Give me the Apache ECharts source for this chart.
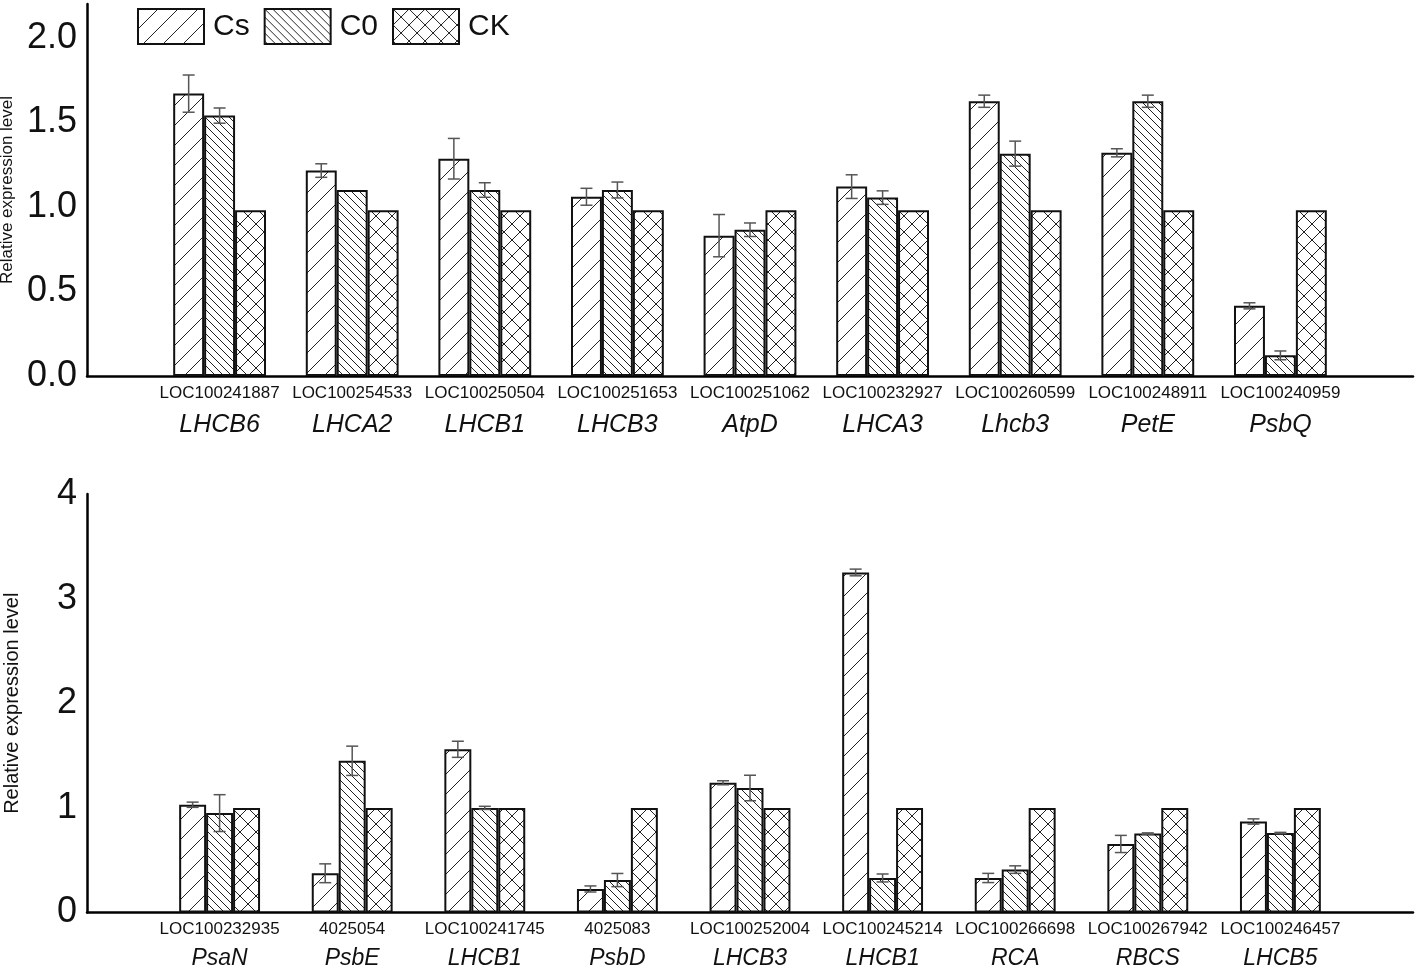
<!DOCTYPE html>
<html><head><meta charset="utf-8">
<script src="https://cdn.jsdelivr.net/npm/echarts@6/dist/echarts.min.js"></script>
<style>html,body{margin:0;padding:0;background:#fff}#c{width:1418px;height:971px}</style>
</head><body><div id="c"></div>
<script>
// ---------- Data: top panel ----------
const topLoc = ['LOC100241887','LOC100254533','LOC100250504','LOC100251653','LOC100251062','LOC100232927','LOC100260599','LOC100248911','LOC100240959'];
const topGene = ['LHCB6','LHCA2','LHCB1','LHCB3','AtpD','LHCA3','Lhcb3','PetE','PsbQ'];
const topCs    = [1.67, 1.215, 1.285, 1.06, 0.83, 1.12, 1.625, 1.32, 0.415];
const topCsErr = [0.11, 0.04, 0.12, 0.05, 0.125, 0.07, 0.036, 0.024, 0.018];
const topC0    = [1.54, 1.10, 1.10, 1.10, 0.865, 1.055, 1.315, 1.625, 0.122];
const topC0Err = [0.045, 0, 0.043, 0.047, 0.04, 0.04, 0.074, 0.036, 0.026];
const topCK    = [0.98, 0.98, 0.98, 0.98, 0.98, 0.98, 0.98, 0.98, 0.98];
const topCKErr = [0, 0, 0, 0, 0, 0, 0, 0, 0];

// ---------- Data: bottom panel ----------
const botLoc = ['LOC100232935','4025054','LOC100241745','4025083','LOC100252004','LOC100245214','LOC100266698','LOC100267942','LOC100246457'];
const botGene = ['PsaN','PsbE','LHCB1','PsbD','LHCB3','LHCB1','RCA','RBCS','LHCB5'];
const botCs    = [1.03, 0.375, 1.56, 0.225, 1.24, 3.25, 0.33, 0.655, 0.87];
const botCsErr = [0.025, 0.09, 0.077, 0.029, 0.019, 0.032, 0.044, 0.082, 0.025];
const botC0    = [0.95, 1.45, 1.0, 0.31, 1.19, 0.33, 0.41, 0.755, 0.76];
const botC0Err = [0.176, 0.14, 0.015, 0.063, 0.122, 0.038, 0.036, 0.006, 0.006];
const botCK    = [1, 1, 1, 1, 1, 1, 1, 1, 1];
const botCKErr = [0, 0, 0, 0, 0, 0, 0, 0, 0];

const seriesNames = ['Cs', 'C0', 'CK'];
const axisTitle = 'Relative expression level';

// ---------- Hatch patterns ----------
function makePattern(kind) {
  const size = kind === 'cs' ? 20 : (kind === 'c0' ? 8 : 16);
  const c = document.createElement('canvas');
  c.width = size; c.height = size;
  const g = c.getContext('2d');
  g.fillStyle = '#fff'; g.fillRect(0, 0, size, size);
  g.strokeStyle = '#222'; g.lineWidth = 1;
  g.beginPath();
  for (const x0 of [-size, 0, size]) {
    if (kind === 'cs' || kind === 'ck') { g.moveTo(x0, size); g.lineTo(x0 + size, 0); }
    if (kind === 'c0' || kind === 'ck') { g.moveTo(x0, 0); g.lineTo(x0 + size, size); }
  }
  g.stroke();
  return { image: c, repeat: 'repeat' };
}
const patterns = [makePattern('cs'), makePattern('c0'), makePattern('ck')];

const pad = v => [null].concat(v, [null]);
const catData = locs => [''].concat(locs, ['']);

function errData(vals, errs, s) {
  const out = [];
  vals.forEach((v, i) => { if (errs[i] > 0) out.push([i + 1, v, errs[i], s]); });
  return out;
}

function renderErr(gap) {
  return function (params, api) {
    const idx = api.value(0), v = api.value(1), e = api.value(2), s = api.value(3);
    const band = api.size([1, 0])[0];
    const bw = band * (1 - gap) / 3;
    const x = api.coord([idx, v])[0] + (s - 1) * bw;
    const yT = api.coord([idx, v + e])[1], yB = api.coord([idx, v - e])[1];
    const cap = 6;
    const style = { stroke: '#555', lineWidth: 1.5, fill: null };
    return { type: 'group', children: [
      { type: 'line', shape: { x1: x, y1: yT, x2: x, y2: yB }, style },
      { type: 'line', shape: { x1: x - cap, y1: yT, x2: x + cap, y2: yT }, style },
      { type: 'line', shape: { x1: x - cap, y1: yB, x2: x + cap, y2: yB }, style }
    ] };
  };
}

const FONT = 'Liberation Sans, Arial, sans-serif';
const panels = [
  { locs: topLoc, genes: topGene, vals: [topCs, topC0, topCK], errs: [topCsErr, topC0Err, topCKErr],
    gap: 0.30, grid: { left: 87, right: 5, top: 4, bottom: 595 }, max: 2.2, interval: 0.5, dec: 1,
    locSize: 17, geneSize: 25, locLH: 32, geneLH: 32, margin: 1, nameSize: 17, nameGap: 63 },
  { locs: botLoc, genes: botGene, vals: [botCs, botC0, botCK], errs: [botCsErr, botC0Err, botCKErr],
    gap: 0.39, grid: { left: 87, right: 5, top: 494, bottom: 58.5 }, max: 4, interval: 1, dec: 0,
    locSize: 17, geneSize: 23, locLH: 30, geneLH: 28, margin: 2, nameSize: 20, nameGap: 65 }
];

const grid = [], xAxis = [], yAxis = [], series = [];
panels.forEach((p, pi) => {
  grid.push(Object.assign({ containLabel: false, outerBoundsMode: 'none' }, p.grid));
  xAxis.push({
    type: 'category', gridIndex: pi, data: catData(p.locs), boundaryGap: false,
    axisLine: { show: true, lineStyle: { color: '#000', width: 2.5 } },
    axisTick: { show: false }, splitLine: { show: false },
    axisLabel: {
      interval: 0, margin: p.margin, fontFamily: FONT,
      formatter: (val, idx) => val === '' ? '' : '{a|' + val + '}\n{b|' + p.genes[idx - 1] + '}',
      rich: {
        a: { fontSize: p.locSize, lineHeight: p.locLH, color: '#111', fontFamily: FONT },
        b: { fontSize: p.geneSize, lineHeight: p.geneLH, fontStyle: 'italic', color: '#111', fontFamily: FONT }
      }
    }
  });
  yAxis.push({
    type: 'value', gridIndex: pi, min: 0, max: p.max, interval: p.interval,
    name: axisTitle, nameLocation: 'middle', nameGap: p.nameGap,
    nameTextStyle: { fontSize: p.nameSize, color: '#111', fontFamily: FONT },
    axisLine: { show: true, lineStyle: { color: '#000', width: 2.5 } },
    axisTick: { show: false }, splitLine: { show: false },
    axisLabel: { fontSize: 36, color: '#111', margin: 10, fontFamily: FONT, showMaxLabel: p.max % p.interval === 0,
      formatter: v => v.toFixed(p.dec) }
  });
  seriesNames.forEach((name, s) => {
    series.push({
      type: 'bar', name, xAxisIndex: pi, yAxisIndex: pi, data: pad(p.vals[s]),
      barGap: '0%', barCategoryGap: (p.gap * 100) + '%',
      itemStyle: { color: patterns[s], borderColor: '#111', borderWidth: 2 },
      emphasis: { disabled: true }, animation: false
    });
  });
  const ed = [];
  seriesNames.forEach((name, s) => { ed.push(...errData(p.vals[s], p.errs[s], s)); });
  series.push({
    type: 'custom', xAxisIndex: pi, yAxisIndex: pi, data: ed, z: 5,
    encode: { x: 0, y: 1 }, renderItem: renderErr(p.gap), animation: false, silent: true
  });
});

const chart = echarts.init(document.getElementById('c'), null, { renderer: 'canvas' });
chart.setOption({
  backgroundColor: '#fff',
  animation: false,
  textStyle: { fontFamily: FONT },
  legend: {
    data: seriesNames, left: 137, top: 8, padding: 0, icon: 'rect', itemWidth: 66, itemHeight: 35, itemGap: 14,
    textStyle: { fontSize: 30, color: '#111', fontFamily: FONT, padding: [0, 0, 0, 4] },
    itemStyle: { borderColor: '#111', borderWidth: 2 }
  },
  grid, xAxis, yAxis, series
});
</script>
</body></html>
